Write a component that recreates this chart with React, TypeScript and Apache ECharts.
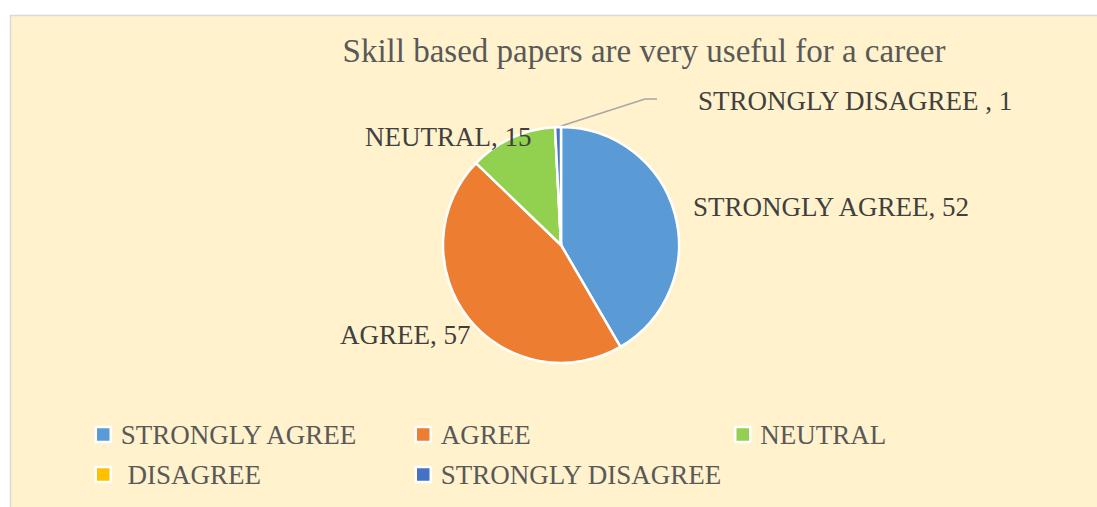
import React, { useEffect, useRef } from "react";
import * as echarts from "echarts";

const titleText = "Skill based papers are very useful for a career";
const categories = ["STRONGLY AGREE", "AGREE", "NEUTRAL", "DISAGREE", "STRONGLY DISAGREE"];
const legendLabels = ["STRONGLY AGREE", "AGREE", "NEUTRAL", " DISAGREE", "STRONGLY DISAGREE"];
const values = [52, 57, 15, 0, 1];
const colors = ["#5B9BD5", "#ED7D31", "#92D050", "#FFC000", "#4472C4"];
const pieLabels = ["STRONGLY AGREE, 52", "AGREE, 57", "NEUTRAL, 15", "", "STRONGLY DISAGREE , 1"];

const FONT = "'Liberation Serif', 'Times New Roman', serif";

export default function App() {
  const ref = useRef<HTMLDivElement>(null);
  useEffect(() => {
    document.body.style.margin = "0";
    if (!ref.current) return;
    const chart = echarts.init(ref.current, undefined, { renderer: "svg" });

    const labelPos: Record<number, [number, number]> = {
      0: [693, 207],
      1: [340, 335],
      2: [365, 137],
      4: [698, 101],
    };
    // icon centres
    const legendPos: [number, number][] = [
      [102.5, 434],
      [422.5, 434],
      [742, 434],
      [102.5, 474],
      [422.5, 474],
    ];

    chart.setOption({
      animation: false,
      backgroundColor: "#ffffff",
      graphic: [
        {
          type: "rect",
          shape: { x: 10.5, y: 15.5, width: 1100, height: 500 },
          style: { fill: "#FFF2CC", stroke: "#D9D9D9", lineWidth: 1.5 },
          z: -10,
        },
      ],
      title: {
        text: titleText,
        left: 639,
        top: 29,
        textAlign: "center",
        textStyle: { fontFamily: FONT, fontSize: 33, fontWeight: "normal", color: "#595959" },
      },
      legend: categories.map((name, i) => ({
        data: [name],
        left: legendPos[i][0] - 13,
        top: legendPos[i][1] - 18,
        icon: "rect",
        itemWidth: 15,
        itemHeight: 15,
        itemStyle: { borderColor: "#ffffff", borderWidth: 2.5 },
        selectedMode: false,
        formatter: () => legendLabels[i],
        textStyle: {
          fontFamily: FONT,
          fontSize: 27,
          color: "#595959",
          padding: [0, 0, 0, 5],
        },
      })),
      series: [
        {
          type: "pie",
          center: [561, 245],
          radius: 118,
          startAngle: 90,
          clockwise: true,
          avoidLabelOverlap: false,
          itemStyle: { borderColor: "#ffffff", borderWidth: 2.5 },
          data: categories.map((name, i) => ({
            name,
            value: values[i],
            itemStyle: { color: colors[i] },
            label: { show: pieLabels[i] !== "" },
            labelLine: {
              show: i === 4,
              lineStyle: { color: "#A6A6A6", width: 1.5 },
            },
          })),
          label: {
            show: true,
            formatter: (p: any) => pieLabels[p.dataIndex],
            fontFamily: FONT,
            fontSize: 27,
            color: "#404040",
          },
          labelLayout: (params: any) => {
            const pos = labelPos[params.dataIndex];
            if (!pos) return {};
            const res: any = { x: pos[0], y: pos[1], align: "left", verticalAlign: "middle" };
            if (params.dataIndex === 4) {
              res.labelLinePoints = [
                [558, 127],
                [645, 99],
                [657, 99],
              ];
            }
            return res;
          },
        },
      ],
    });
    return () => chart.dispose();
  }, []);
  return <div ref={ref} style={{ width: 1097, height: 507 }} />;
}
